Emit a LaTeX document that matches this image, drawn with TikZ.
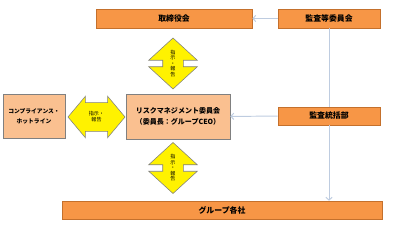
\documentclass[tikz,border=0pt]{standalone}
\usepackage{fontspec}
\setmainfont{Noto Sans CJK JP}
\usetikzlibrary{positioning, arrows.meta, shapes.arrows}
\definecolor{boxA}{RGB}{247, 150, 70}
\definecolor{boxAline}{RGB}{196, 112, 44}
\definecolor{boxB}{RGB}{250, 192, 144}
\definecolor{boxBline}{RGB}{128, 128, 128}
\definecolor{linkC}{RGB}{190, 204, 224}

\begin{document}
\begin{tikzpicture}[
  x=0.025cm, y=-0.025cm,
  dark/.style={draw=boxAline, fill=boxA, inner sep=0pt, minimum height=0.47cm,
    font=\fontsize{5.6}{6}\selectfont\bfseries},
  light/.style={draw=boxBline, fill=boxB, inner sep=0pt, align=center,
    font=\fontsize{5}{8}\selectfont\bfseries},
  twoway/.style={double arrow, draw=boxBline, fill=yellow},
  tag/.style={font=\fontsize{3.6}{4.4}\selectfont, align=center, inner sep=0pt},
  link/.style={draw=linkC, line width=0.7pt},
  tip/.style={-{Straight Barb[length=2pt, width=4.5pt]}}
]
  \useasboundingbox (0, 0) rectangle (400, 229);
  % Top row
  \node[dark, minimum width=3.9cm] (board) at (174, 18.5) {取締役会};
  \node[dark, minimum width=2.55cm] (audit) at (329, 18.5) {監査等委員会};
  % Middle row
  \node[light, minimum width=1.55cm, minimum height=1.1cm,
    font=\fontsize{4.1}{7}\selectfont\bfseries] (hotline) at (34, 116)
    {コンプライアンス・\\ホットライン};
  \node[light, minimum width=2.6cm, minimum height=1.125cm] (risk) at (178, 116.5)
    {リスクマネジメント委員会\\（委員長：グループCEO）};
  \node[dark, minimum width=2.55cm, minimum height=0.45cm] (office) at (329, 116) {監査統括部};
  % Bottom row
  \node[dark, minimum width=8cm, minimum height=0.45cm] (group) at (222, 210) {グループ各社};

  % Instruction / report arrows
  \node[twoway, inner xsep=0pt, inner ysep=0.35cm, minimum height=1.425cm,
    double arrow head extend=0.1625cm, double arrow tip angle=100] (hv) at (96.5, 117) {};
  \node[tag] at (hv) {指示・\\報告};
  \foreach \y/\nm in {63.5/up, 168/down} {
    \node[twoway, shape border rotate=90, inner xsep=0.25cm, inner ysep=0pt,
      minimum height=1.275cm, double arrow head extend=0.35cm,
      double arrow tip angle=95] (\nm) at (173, \y) {};
    \node[tag, font=\fontsize{3.6}{3.9}\selectfont] at (\nm) {指\\示\\・\\報\\告};
  }

  % Audit links
  \draw[link, tip] (audit) -- (board);
  \draw[link] (audit) -- (office);
  \draw[link, tip] (office) -- (risk);
  \draw[link, tip] (office.south) -- (office.south |- group.north);
\end{tikzpicture}
\end{document}
